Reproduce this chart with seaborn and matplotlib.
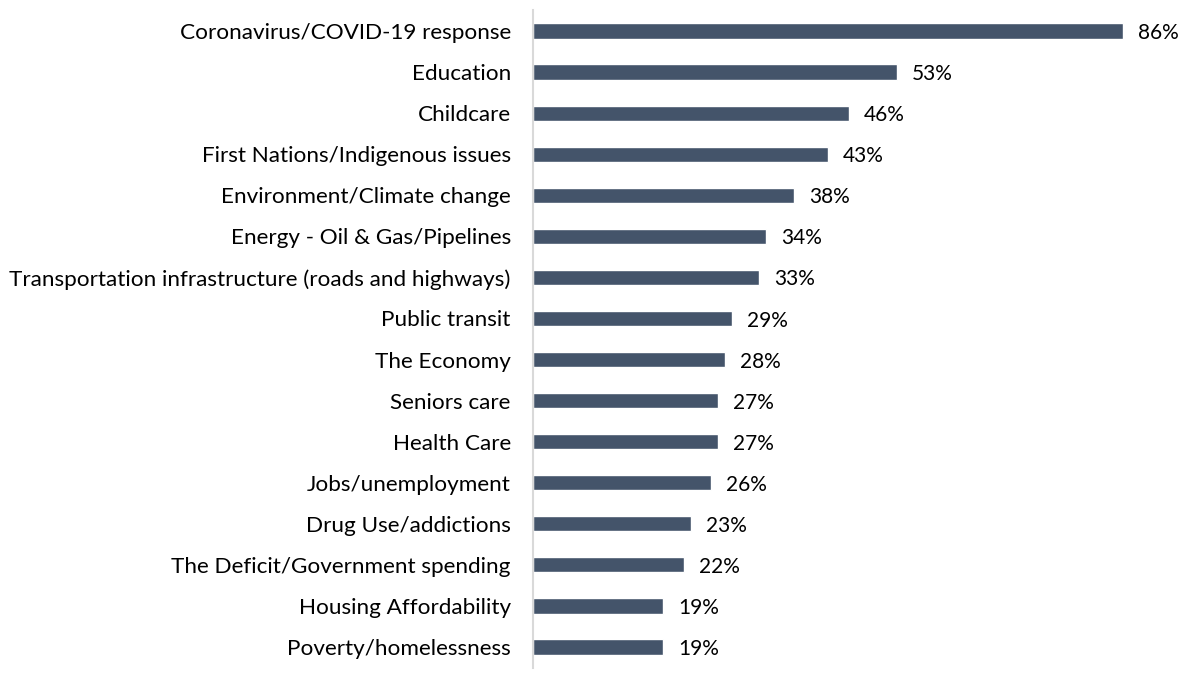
import matplotlib
matplotlib.use("Agg")
import matplotlib.pyplot as plt
import pandas as pd
import seaborn as sns

categories = [
    "Coronavirus/COVID-19 response",
    "Education",
    "Childcare",
    "First Nations/Indigenous issues",
    "Environment/Climate change",
    "Energy - Oil & Gas/Pipelines",
    "Transportation infrastructure (roads and highways)",
    "Public transit",
    "The Economy",
    "Seniors care",
    "Health Care",
    "Jobs/unemployment",
    "Drug Use/addictions",
    "The Deficit/Government spending",
    "Housing Affordability",
    "Poverty/homelessness",
]
values = [86, 53, 46, 43, 38, 34, 33, 29, 28, 27, 27, 26, 23, 22, 19, 19]

df = pd.DataFrame({"issue": categories, "pct": values})

sns.set_style("white")
plt.rcParams["font.family"] = ["Lato", "DejaVu Sans"]

fig = plt.figure(figsize=(11.82, 6.90), dpi=100)
ax = fig.add_axes([533 / 1182, 1 - 667.5 / 690, 617.4 / 1182, 657 / 690])

sns.barplot(data=df, x="pct", y="issue", color="#44546A", width=0.37,
            saturation=1, ax=ax)

for i, v in enumerate(values):
    ax.text(v + 2.2, i + 0.05, f"{v}%", va="center", ha="left", fontsize=15,
            color="#000000")

ax.set_xlim(0, 90)
ax.set_ylim(15.5, -0.5)
ax.set_xlabel("")
ax.set_ylabel("")
ax.set_xticks([])
ax.tick_params(axis="y", length=0, pad=16, labelsize=16.2, labelcolor="#000000")
for s in ["top", "right", "bottom"]:
    ax.spines[s].set_visible(False)
ax.spines["left"].set_color("#D9D9D9")
ax.spines["left"].set_linewidth(1.5)

fig.savefig("out.png", dpi=100)
